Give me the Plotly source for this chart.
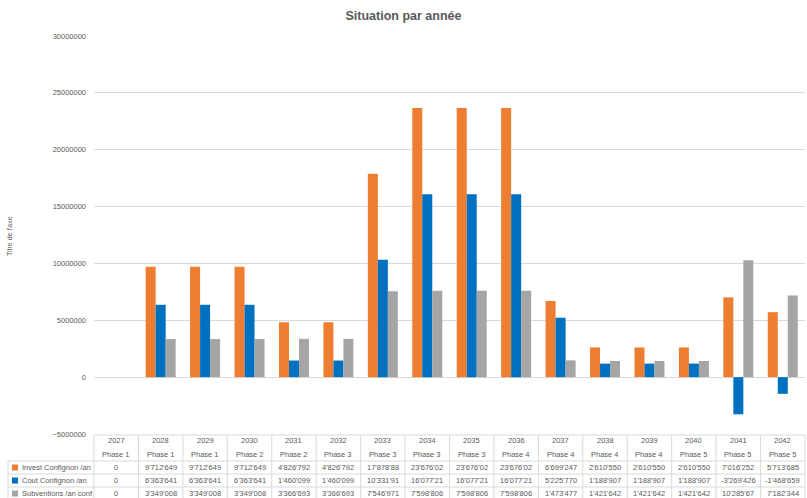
import plotly.graph_objects as go

# Yearly figures (CHF) for Confignon
years = ["2027", "2028", "2029", "2030", "2031", "2032", "2033", "2034",
         "2035", "2036", "2037", "2038", "2039", "2040", "2041", "2042"]
phases = ["Phase 1", "Phase 1", "Phase 1", "Phase 2", "Phase 2", "Phase 3", "Phase 3", "Phase 3",
          "Phase 3", "Phase 4", "Phase 4", "Phase 4", "Phase 4", "Phase 5", "Phase 5", "Phase 5"]
invest = [0, 9712649, 9712649, 9712649, 4826792, 4826792, 17878880, 23676020,
          23676020, 23676020, 6699247, 2610550, 2610550, 2610550, 7016252, 5713685]
cout = [0, 6363641, 6363641, 6363641, 1460099, 1460099, 10331910, 16077210,
        16077210, 16077210, 5225770, 1188907, 1188907, 1188907, -3269426, -1468659]
subventions = [0, 3349008, 3349008, 3349008, 3366693, 3366693, 7546971, 7598806,
               7598806, 7598806, 1473477, 1421642, 1421642, 1421642, 10285670, 7182344]

series = [
    ("Invest Confignon /an", invest, "#ED7D31"),
    ("Cout Confignon /an", cout, "#0070C0"),
    ("Subventions /an conf", subventions, "#A5A5A5"),
]

W, H = 807, 498
ML, MR, MT, MB = 94, 2, 36, 64
PW, PH = W - ML - MR, H - MT - MB
FONT = "Liberation Sans"
TXT = "#595959"
GRID = "#D9D9D9"


def fx(px):
    return (px - ML) / PW


def fy(py):
    return (H - MB - py) / PH


def fmt(v):
    s = f"{v:,}".replace(",", "'")
    # cells are narrow: long positive numbers get clipped
    if len(s) > 9 and not s.startswith("-"):
        s = s[:9]
    return s


fig = go.Figure()
for name, vals, color in series:
    fig.add_trace(go.Bar(x=years, y=vals, name=name, marker=dict(color=color, line=dict(width=0))))

shapes = []
annotations = []

# data table under the plot
col_w = PW / len(years)
row_lines = [(435, ML), (461, 8), (474, 8), (487, 8)]
for py, x0 in row_lines:
    shapes.append(dict(type="line", xref="paper", yref="paper", x0=fx(x0), x1=fx(W - MR),
                       y0=fy(py), y1=fy(py), line=dict(color=GRID, width=1)))
for k in range(len(years) + 1):
    px = ML + k * col_w
    shapes.append(dict(type="line", xref="paper", yref="paper", x0=fx(px), x1=fx(px),
                       y0=fy(435), y1=fy(H + 2), line=dict(color=GRID, width=1)))
shapes.append(dict(type="line", xref="paper", yref="paper", x0=fx(8), x1=fx(8),
                   y0=fy(461), y1=fy(H + 2), line=dict(color=GRID, width=1)))

cell_font = dict(family=FONT, size=7.5, color=TXT)
for i, (yr, ph) in enumerate(zip(years, phases)):
    annotations.append(dict(x=i, y=fy(441), xref="x", yref="paper", text=yr, showarrow=False,
                            font=cell_font, yanchor="middle"))
    annotations.append(dict(x=i, y=fy(454), xref="x", yref="paper", text=ph, showarrow=False,
                            font=cell_font, yanchor="middle"))

row_centers = [467.5, 480.5, 493.5]
for (name, vals, color), py in zip(series, row_centers):
    shapes.append(dict(type="rect", xref="paper", yref="paper", x0=fx(12), x1=fx(18),
                       y0=fy(py - 3), y1=fy(py + 3), fillcolor=color, line=dict(width=0)))
    annotations.append(dict(x=fx(19.5), y=fy(py), xref="paper", yref="paper", text=name,
                            showarrow=False, xanchor="left", yanchor="middle", font=cell_font))
    for i, v in enumerate(vals):
        annotations.append(dict(x=i, y=fy(py), xref="x", yref="paper", text=fmt(v),
                                showarrow=False, yanchor="middle", font=cell_font))

# axis title
annotations.append(dict(x=fx(10), y=fy(236), xref="paper", yref="paper", text="Titre de l'axe",
                        textangle=-90, showarrow=False, xanchor="center", yanchor="middle",
                        font=dict(family=FONT, size=7, color=TXT)))

fig.update_layout(
    width=W, height=H,
    margin=dict(l=ML, r=MR, t=MT, b=MB, autoexpand=False),
    paper_bgcolor="white", plot_bgcolor="white",
    title=dict(text="<b>Situation par année</b>", x=0.5, xref="container", xanchor="center",
               y=1 - 16 / H, yref="container", yanchor="middle",
               font=dict(family=FONT, size=12.5, color=TXT)),
    barmode="group", bargap=0.325, bargroupgap=0,
    showlegend=False,
    xaxis=dict(type="category", range=[-0.5, len(years) - 0.5], showticklabels=False,
               showgrid=False, showline=False, zeroline=False, ticks=""),
    yaxis=dict(range=[-5000000, 30000000], tickvals=list(range(-5000000, 30000001, 5000000)),
               tickformat="d", showgrid=True, gridcolor=GRID, gridwidth=1,
               zeroline=True, zerolinecolor=GRID, zerolinewidth=1, showline=False, ticks="",
               ticklabelstandoff=7,
               tickfont=dict(family=FONT, size=7.5, color=TXT)),
    shapes=shapes,
    annotations=annotations,
)

fig.write_html("out.html")
